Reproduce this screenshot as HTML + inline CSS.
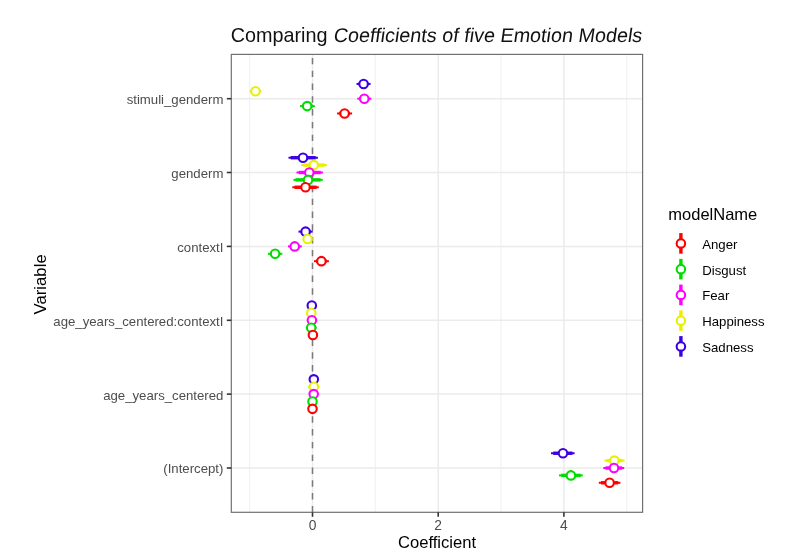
<!DOCTYPE html>
<html><head><meta charset="utf-8"><title>Comparing Coefficients</title>
<style>html,body{margin:0;padding:0;background:#fff;width:807px;height:560px;overflow:hidden} svg{display:block;will-change:transform}</style>
</head><body>
<svg width="807" height="560" viewBox="0 0 807 560">
<rect x="0" y="0" width="807" height="560" fill="#FFFFFF"/>
<line x1="249.65" y1="54.4" x2="249.65" y2="512.3" stroke="#F2F2F2" stroke-width="1.2"/>
<line x1="375.35" y1="54.4" x2="375.35" y2="512.3" stroke="#F2F2F2" stroke-width="1.2"/>
<line x1="501.05" y1="54.4" x2="501.05" y2="512.3" stroke="#F2F2F2" stroke-width="1.2"/>
<line x1="626.75" y1="54.4" x2="626.75" y2="512.3" stroke="#F2F2F2" stroke-width="1.2"/>
<line x1="312.50" y1="54.4" x2="312.50" y2="512.3" stroke="#EBEBEB" stroke-width="1.5"/>
<line x1="438.20" y1="54.4" x2="438.20" y2="512.3" stroke="#EBEBEB" stroke-width="1.5"/>
<line x1="563.90" y1="54.4" x2="563.90" y2="512.3" stroke="#EBEBEB" stroke-width="1.5"/>
<line x1="231.3" y1="98.7" x2="642.6" y2="98.7" stroke="#EBEBEB" stroke-width="1.5"/>
<line x1="231.3" y1="172.5" x2="642.6" y2="172.5" stroke="#EBEBEB" stroke-width="1.5"/>
<line x1="231.3" y1="246.4" x2="642.6" y2="246.4" stroke="#EBEBEB" stroke-width="1.5"/>
<line x1="231.3" y1="320.3" x2="642.6" y2="320.3" stroke="#EBEBEB" stroke-width="1.5"/>
<line x1="231.3" y1="394.1" x2="642.6" y2="394.1" stroke="#EBEBEB" stroke-width="1.5"/>
<line x1="231.3" y1="468.0" x2="642.6" y2="468.0" stroke="#EBEBEB" stroke-width="1.5"/>
<line x1="312.50" y1="512.3" x2="312.50" y2="54.4" stroke="#7A7A7A" stroke-width="1.5" stroke-dasharray="6.4 6.4"/>
<line x1="356.50" y1="83.93" x2="370.60" y2="83.93" stroke="#3C00E6" stroke-width="2.0"/>
<line x1="358.70" y1="83.93" x2="368.40" y2="83.93" stroke="#3C00E6" stroke-width="3.4"/>
<circle cx="363.60" cy="83.93" r="4.25" fill="#FFFFFF" stroke="#3C00E6" stroke-width="2.1"/>
<line x1="249.60" y1="91.31" x2="261.50" y2="91.31" stroke="#E8F000" stroke-width="2.0"/>
<line x1="251.80" y1="91.31" x2="259.30" y2="91.31" stroke="#E8F000" stroke-width="3.4"/>
<circle cx="255.50" cy="91.31" r="4.25" fill="#FFFFFF" stroke="#E8F000" stroke-width="2.1"/>
<line x1="357.30" y1="98.70" x2="371.40" y2="98.70" stroke="#FF00FF" stroke-width="2.0"/>
<line x1="359.50" y1="98.70" x2="369.20" y2="98.70" stroke="#FF00FF" stroke-width="3.4"/>
<circle cx="364.30" cy="98.70" r="4.25" fill="#FFFFFF" stroke="#FF00FF" stroke-width="2.1"/>
<line x1="300.00" y1="106.09" x2="314.80" y2="106.09" stroke="#00DC00" stroke-width="2.0"/>
<line x1="302.20" y1="106.09" x2="312.60" y2="106.09" stroke="#00DC00" stroke-width="3.4"/>
<circle cx="307.20" cy="106.09" r="4.25" fill="#FFFFFF" stroke="#00DC00" stroke-width="2.1"/>
<line x1="337.10" y1="113.47" x2="352.10" y2="113.47" stroke="#FF0000" stroke-width="2.0"/>
<line x1="339.30" y1="113.47" x2="349.90" y2="113.47" stroke="#FF0000" stroke-width="3.4"/>
<circle cx="344.60" cy="113.47" r="4.25" fill="#FFFFFF" stroke="#FF0000" stroke-width="2.1"/>
<line x1="288.50" y1="157.73" x2="317.90" y2="157.73" stroke="#3C00E6" stroke-width="2.0"/>
<line x1="290.70" y1="157.73" x2="315.70" y2="157.73" stroke="#3C00E6" stroke-width="3.4"/>
<circle cx="303.00" cy="157.73" r="4.25" fill="#FFFFFF" stroke="#3C00E6" stroke-width="2.1"/>
<line x1="301.00" y1="165.11" x2="326.90" y2="165.11" stroke="#E8F000" stroke-width="2.0"/>
<line x1="303.20" y1="165.11" x2="324.70" y2="165.11" stroke="#E8F000" stroke-width="3.4"/>
<circle cx="313.80" cy="165.11" r="4.25" fill="#FFFFFF" stroke="#E8F000" stroke-width="2.1"/>
<line x1="296.50" y1="172.50" x2="322.90" y2="172.50" stroke="#FF00FF" stroke-width="2.0"/>
<line x1="298.70" y1="172.50" x2="320.70" y2="172.50" stroke="#FF00FF" stroke-width="3.4"/>
<circle cx="309.30" cy="172.50" r="4.25" fill="#FFFFFF" stroke="#FF00FF" stroke-width="2.1"/>
<line x1="293.40" y1="179.89" x2="322.70" y2="179.89" stroke="#00DC00" stroke-width="2.0"/>
<line x1="295.60" y1="179.89" x2="320.50" y2="179.89" stroke="#00DC00" stroke-width="3.4"/>
<circle cx="308.00" cy="179.89" r="4.25" fill="#FFFFFF" stroke="#00DC00" stroke-width="2.1"/>
<line x1="292.30" y1="187.27" x2="318.80" y2="187.27" stroke="#FF0000" stroke-width="2.0"/>
<line x1="294.50" y1="187.27" x2="316.60" y2="187.27" stroke="#FF0000" stroke-width="3.4"/>
<circle cx="305.50" cy="187.27" r="4.25" fill="#FFFFFF" stroke="#FF0000" stroke-width="2.1"/>
<line x1="298.50" y1="231.63" x2="312.70" y2="231.63" stroke="#3C00E6" stroke-width="2.0"/>
<line x1="300.70" y1="231.63" x2="310.50" y2="231.63" stroke="#3C00E6" stroke-width="3.4"/>
<circle cx="305.60" cy="231.63" r="4.25" fill="#FFFFFF" stroke="#3C00E6" stroke-width="2.1"/>
<circle cx="307.60" cy="239.01" r="4.25" fill="#FFFFFF" stroke="#E8F000" stroke-width="2.1"/>
<line x1="288.00" y1="246.40" x2="301.80" y2="246.40" stroke="#FF00FF" stroke-width="2.0"/>
<line x1="290.20" y1="246.40" x2="299.60" y2="246.40" stroke="#FF00FF" stroke-width="3.4"/>
<circle cx="294.70" cy="246.40" r="4.25" fill="#FFFFFF" stroke="#FF00FF" stroke-width="2.1"/>
<line x1="267.90" y1="253.79" x2="282.30" y2="253.79" stroke="#00DC00" stroke-width="2.0"/>
<line x1="270.10" y1="253.79" x2="280.10" y2="253.79" stroke="#00DC00" stroke-width="3.4"/>
<circle cx="275.10" cy="253.79" r="4.25" fill="#FFFFFF" stroke="#00DC00" stroke-width="2.1"/>
<line x1="314.00" y1="261.17" x2="328.90" y2="261.17" stroke="#FF0000" stroke-width="2.0"/>
<line x1="316.20" y1="261.17" x2="326.70" y2="261.17" stroke="#FF0000" stroke-width="3.4"/>
<circle cx="321.40" cy="261.17" r="4.25" fill="#FFFFFF" stroke="#FF0000" stroke-width="2.1"/>
<circle cx="311.80" cy="305.53" r="4.25" fill="#FFFFFF" stroke="#3C00E6" stroke-width="2.1"/>
<circle cx="311.30" cy="312.91" r="4.25" fill="#FFFFFF" stroke="#E8F000" stroke-width="2.1"/>
<circle cx="311.90" cy="320.30" r="4.25" fill="#FFFFFF" stroke="#FF00FF" stroke-width="2.1"/>
<line x1="305.90" y1="327.69" x2="316.60" y2="327.69" stroke="#00DC00" stroke-width="2.0"/>
<line x1="308.10" y1="327.69" x2="314.40" y2="327.69" stroke="#00DC00" stroke-width="3.4"/>
<circle cx="311.20" cy="327.69" r="4.25" fill="#FFFFFF" stroke="#00DC00" stroke-width="2.1"/>
<circle cx="312.90" cy="335.07" r="4.25" fill="#FFFFFF" stroke="#FF0000" stroke-width="2.1"/>
<circle cx="313.80" cy="379.33" r="4.25" fill="#FFFFFF" stroke="#3C00E6" stroke-width="2.1"/>
<line x1="308.00" y1="386.71" x2="319.70" y2="386.71" stroke="#E8F000" stroke-width="2.0"/>
<line x1="310.20" y1="386.71" x2="317.50" y2="386.71" stroke="#E8F000" stroke-width="3.4"/>
<circle cx="313.80" cy="386.71" r="4.25" fill="#FFFFFF" stroke="#E8F000" stroke-width="2.1"/>
<circle cx="313.70" cy="394.10" r="4.25" fill="#FFFFFF" stroke="#FF00FF" stroke-width="2.1"/>
<circle cx="312.50" cy="401.49" r="4.25" fill="#FFFFFF" stroke="#00DC00" stroke-width="2.1"/>
<circle cx="312.50" cy="408.87" r="4.25" fill="#FFFFFF" stroke="#FF0000" stroke-width="2.1"/>
<line x1="551.00" y1="453.23" x2="574.60" y2="453.23" stroke="#3C00E6" stroke-width="2.0"/>
<line x1="553.20" y1="453.23" x2="572.40" y2="453.23" stroke="#3C00E6" stroke-width="3.4"/>
<circle cx="563.00" cy="453.23" r="4.25" fill="#FFFFFF" stroke="#3C00E6" stroke-width="2.1"/>
<line x1="604.40" y1="460.61" x2="624.60" y2="460.61" stroke="#E8F000" stroke-width="2.0"/>
<line x1="606.60" y1="460.61" x2="622.40" y2="460.61" stroke="#E8F000" stroke-width="3.4"/>
<circle cx="614.40" cy="460.61" r="4.25" fill="#FFFFFF" stroke="#E8F000" stroke-width="2.1"/>
<line x1="603.30" y1="468.00" x2="624.20" y2="468.00" stroke="#FF00FF" stroke-width="2.0"/>
<line x1="605.50" y1="468.00" x2="622.00" y2="468.00" stroke="#FF00FF" stroke-width="3.4"/>
<circle cx="614.00" cy="468.00" r="4.25" fill="#FFFFFF" stroke="#FF00FF" stroke-width="2.1"/>
<line x1="559.00" y1="475.39" x2="582.80" y2="475.39" stroke="#00DC00" stroke-width="2.0"/>
<line x1="561.20" y1="475.39" x2="580.60" y2="475.39" stroke="#00DC00" stroke-width="3.4"/>
<circle cx="570.90" cy="475.39" r="4.25" fill="#FFFFFF" stroke="#00DC00" stroke-width="2.1"/>
<line x1="598.80" y1="482.77" x2="620.40" y2="482.77" stroke="#FF0000" stroke-width="2.0"/>
<line x1="601.00" y1="482.77" x2="618.20" y2="482.77" stroke="#FF0000" stroke-width="3.4"/>
<circle cx="609.60" cy="482.77" r="4.25" fill="#FFFFFF" stroke="#FF0000" stroke-width="2.1"/>
<rect x="231.3" y="54.4" width="411.30" height="457.90" fill="none" stroke="#707070" stroke-width="1.2"/>
<line x1="226.80" y1="98.7" x2="231.3" y2="98.7" stroke="#333333" stroke-width="1.6"/>
<line x1="226.80" y1="172.5" x2="231.3" y2="172.5" stroke="#333333" stroke-width="1.6"/>
<line x1="226.80" y1="246.4" x2="231.3" y2="246.4" stroke="#333333" stroke-width="1.6"/>
<line x1="226.80" y1="320.3" x2="231.3" y2="320.3" stroke="#333333" stroke-width="1.6"/>
<line x1="226.80" y1="394.1" x2="231.3" y2="394.1" stroke="#333333" stroke-width="1.6"/>
<line x1="226.80" y1="468.0" x2="231.3" y2="468.0" stroke="#333333" stroke-width="1.6"/>
<line x1="312.50" y1="512.3" x2="312.50" y2="516.80" stroke="#333333" stroke-width="1.6"/>
<line x1="438.20" y1="512.3" x2="438.20" y2="516.80" stroke="#333333" stroke-width="1.6"/>
<line x1="563.90" y1="512.3" x2="563.90" y2="516.80" stroke="#333333" stroke-width="1.6"/>
<text x="223.4" y="104.10" text-anchor="end" style="font-family:'Liberation Sans',sans-serif;font-size:13.2px" fill="#4D4D4D">stimuli_genderm</text>
<text x="223.4" y="177.90" text-anchor="end" style="font-family:'Liberation Sans',sans-serif;font-size:13.2px" fill="#4D4D4D">genderm</text>
<text x="223.4" y="251.80" text-anchor="end" style="font-family:'Liberation Sans',sans-serif;font-size:13.2px" fill="#4D4D4D">contextI</text>
<text x="223.4" y="325.70" text-anchor="end" style="font-family:'Liberation Sans',sans-serif;font-size:13.2px" fill="#4D4D4D">age_years_centered:contextI</text>
<text x="223.4" y="399.50" text-anchor="end" style="font-family:'Liberation Sans',sans-serif;font-size:13.2px" fill="#4D4D4D">age_years_centered</text>
<text x="223.4" y="473.40" text-anchor="end" style="font-family:'Liberation Sans',sans-serif;font-size:13.2px" fill="#4D4D4D">(Intercept)</text>
<text x="312.50" y="529.9" text-anchor="middle" style="font-family:'Liberation Sans',sans-serif;font-size:13.8px" fill="#4D4D4D">0</text>
<text x="438.20" y="529.9" text-anchor="middle" style="font-family:'Liberation Sans',sans-serif;font-size:13.8px" fill="#4D4D4D">2</text>
<text x="563.90" y="529.9" text-anchor="middle" style="font-family:'Liberation Sans',sans-serif;font-size:13.8px" fill="#4D4D4D">4</text>
<text x="437" y="548.0" text-anchor="middle" style="font-family:'Liberation Sans',sans-serif;font-size:16.6px" fill="#000">Coefficient</text>
<text transform="translate(45.6 284.4) rotate(-90)" x="0" y="0" text-anchor="middle" style="font-family:'Liberation Sans',sans-serif;font-size:16.8px" fill="#000">Variable</text>
<text x="230.7" y="41.6" style="font-family:'Liberation Sans',sans-serif;font-size:19.8px" fill="#111">Comparing</text>
<g transform="translate(332.97 41.6) skewX(-8)"><text x="0" y="0" style="font-family:'Liberation Sans',sans-serif;font-size:19.8px" fill="#111">Coefficients of five Emotion Models</text></g>
<text x="668.3" y="220.3" style="font-family:'Liberation Sans',sans-serif;font-size:16.5px" fill="#000">modelName</text>
<line x1="680.9" y1="233.10" x2="680.9" y2="253.70" stroke="#FF0000" stroke-width="3.4"/>
<circle cx="680.9" cy="243.40" r="4.25" fill="#FFFFFF" stroke="#FF0000" stroke-width="2.1"/>
<text x="702.2" y="248.80" style="font-family:'Liberation Sans',sans-serif;font-size:13.2px" fill="#000">Anger</text>
<line x1="680.9" y1="258.85" x2="680.9" y2="279.45" stroke="#00DC00" stroke-width="3.4"/>
<circle cx="680.9" cy="269.15" r="4.25" fill="#FFFFFF" stroke="#00DC00" stroke-width="2.1"/>
<text x="702.2" y="274.55" style="font-family:'Liberation Sans',sans-serif;font-size:13.2px" fill="#000">Disgust</text>
<line x1="680.9" y1="284.60" x2="680.9" y2="305.20" stroke="#FF00FF" stroke-width="3.4"/>
<circle cx="680.9" cy="294.90" r="4.25" fill="#FFFFFF" stroke="#FF00FF" stroke-width="2.1"/>
<text x="702.2" y="300.30" style="font-family:'Liberation Sans',sans-serif;font-size:13.2px" fill="#000">Fear</text>
<line x1="680.9" y1="310.35" x2="680.9" y2="330.95" stroke="#E8F000" stroke-width="3.4"/>
<circle cx="680.9" cy="320.65" r="4.25" fill="#FFFFFF" stroke="#E8F000" stroke-width="2.1"/>
<text x="702.2" y="326.05" style="font-family:'Liberation Sans',sans-serif;font-size:13.2px" fill="#000">Happiness</text>
<line x1="680.9" y1="336.10" x2="680.9" y2="356.70" stroke="#3C00E6" stroke-width="3.4"/>
<circle cx="680.9" cy="346.40" r="4.25" fill="#FFFFFF" stroke="#3C00E6" stroke-width="2.1"/>
<text x="702.2" y="351.80" style="font-family:'Liberation Sans',sans-serif;font-size:13.2px" fill="#000">Sadness</text>
</svg>
</body></html>
